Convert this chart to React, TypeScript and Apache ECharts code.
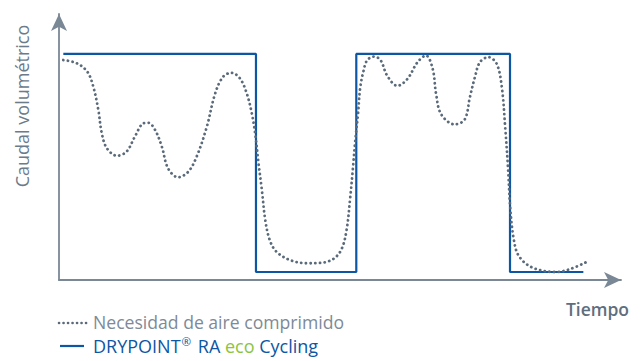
import React, { useEffect, useRef } from "react";
import * as echarts from "echarts";

// Compressed-air demand (dotted curve): time / flow values
const demandTime = [
  0.77, 3.15, 5.04, 6.1, 7.0, 7.6, 8.5, 10.3, 12.0, 13.5, 15.0, 15.9, 17.1, 18.3, 19.4, 21.2, 23.0, 24.5,
  26.3, 27.8, 29.2, 30.7, 32.2, 33.4, 34.3, 34.9, 35.5, 36.1, 36.7, 37.5, 38.7, 41.1, 44.1, 46.4, 48.8,
  50.3, 51.2, 51.8, 52.3, 52.7, 53.2, 53.6, 54.2, 54.8, 56.0, 57.2, 58.4, 60.2, 62.0, 63.8, 65.3, 66.5,
  67.1, 68.0, 70.4, 72.2, 73.1, 74.0, 74.9, 76.4, 77.9, 78.8, 79.4, 79.9, 80.3, 80.9, 81.8, 84.2, 88.4,
  90.8, 93.7,
];
const demandFlow = [
  82.7, 81.5, 78.3, 72.7, 63.9, 55.3, 49.6, 46.7, 48.2, 53.9, 58.9, 59.1, 56.4, 50.1, 42.0, 38.6, 40.7, 46.4,
  57.6, 70.2, 76.4, 77.9, 75.8, 70.2, 62.7, 55.2, 43.9, 33.8, 22.6, 15.0, 10.6, 7.5, 6.3, 6.4, 7.9,
  11.7, 19.2, 30.6, 42.0, 52.1, 62.3, 72.4, 78.7, 82.5, 84.0, 82.7, 76.8, 73.0, 75.6, 81.9, 84.4, 79.3,
  69.9, 62.3, 58.5, 60.4, 68.6, 76.2, 81.9, 83.8, 81.2, 72.4, 57.2, 42.0, 26.9, 15.5, 9.1, 4.7, 3.0,
  4.0, 6.6,
];

// DRYPOINT RA eco Cycling (step line)
const cycleTime = [0.77, 35.05, 35.05, 52.9, 52.9, 80.25, 80.25, 93.3];
const cycleFlow = [85, 85, 3, 3, 85, 85, 3, 3];

const yAxisTitle = "Caudal volumétrico";
const xAxisTitle = "Tiempo";
const legendDemand = "Necesidad de aire comprimido";
const legendCycling = ["DRYPOINT", "®", " RA ", "eco", " Cycling"];

const FONT = "'Open Sans', 'Noto Sans', sans-serif";
const AXIS_COLOR = "#7a8896";
const DOT_COLOR = "#5a6a7a";
const BLUE = "#0d56a3";
const GREEN = "#8cc43f";

export default function App() {
  const ref = useRef<HTMLDivElement>(null);

  useEffect(() => {
    if (!ref.current) return;
    const chart = echarts.init(ref.current, undefined, { renderer: "svg" });
    const demand = demandTime.map((t, i) => [t, demandFlow[i]]);
    const cycling = cycleTime.map((t, i) => [t, cycleFlow[i]]);

    chart.setOption({
      animation: false,
      grid: { left: 59, right: 22, top: 14, bottom: 81 },
      xAxis: {
        type: "value",
        min: 0,
        max: 100,
        axisLine: {
          show: true,
          symbol: ["none", "arrow"],
          symbolSize: [12, 17],
          lineStyle: { color: AXIS_COLOR, width: 1.8 },
        },
        axisTick: { show: false },
        axisLabel: { show: false },
        splitLine: { show: false },
      },
      yAxis: {
        type: "value",
        min: 0,
        max: 100,
        axisLine: {
          show: true,
          symbol: ["none", "arrow"],
          symbolSize: [12, 17],
          lineStyle: { color: AXIS_COLOR, width: 1.8 },
        },
        axisTick: { show: false },
        axisLabel: { show: false },
        splitLine: { show: false },
      },
      series: [
        {
          type: "line",
          data: cycling,
          symbol: "none",
          lineStyle: { color: BLUE, width: 2.2 },
          z: 2,
        },
        {
          type: "line",
          data: demand,
          symbol: "none",
          smooth: 0.35,
          lineStyle: { color: DOT_COLOR, width: 2.8, type: [0.1, 4.6], cap: "round" },
          z: 3,
        },
      ],
      graphic: [
        {
          type: "text",
          x: 22,
          y: 106,
          rotation: Math.PI / 2,
          style: {
            text: yAxisTitle,
            fill: "#6b7b8a",
            font: `500 18px ${FONT}`,
            align: "center",
            verticalAlign: "middle",
          },
        },
        {
          type: "text",
          x: 629,
          y: 309,
          style: {
            text: xAxisTitle,
            fill: "#5f6e7d",
            font: `600 17.5px ${FONT}`,
            align: "right",
            verticalAlign: "middle",
          },
        },
        {
          type: "line",
          shape: { x1: 59, y1: 323, x2: 88, y2: 323 },
          style: { stroke: DOT_COLOR, lineWidth: 2.6, lineDash: [0.1, 4.4], lineCap: "round" },
        },
        {
          type: "text",
          x: 93,
          y: 322,
          style: {
            text: legendDemand,
            fill: "#7d8a97",
            font: `17.6px ${FONT}`,
            align: "left",
            verticalAlign: "middle",
          },
        },
        {
          type: "line",
          shape: { x1: 60, y1: 346, x2: 84, y2: 346 },
          style: { stroke: BLUE, lineWidth: 2.2 },
        },
        {
          type: "text",
          x: 93,
          y: 346,
          style: {
            text:
              `{b|${legendCycling[0]}}{sup|${legendCycling[1]}}{b|${legendCycling[2]}}` +
              `{g|${legendCycling[3]}}{b|${legendCycling[4]}}`,
            align: "left",
            verticalAlign: "middle",
            rich: {
              b: { fill: BLUE, font: `18px ${FONT}`, lineHeight: 22 },
              sup: { fill: BLUE, font: `11.5px ${FONT}`, verticalAlign: "top", lineHeight: 22, padding: [0, 2, 9, 1] },
              g: { fill: GREEN, font: `18px ${FONT}`, lineHeight: 22 },
            },
          },
        },
      ],
    });
    return () => chart.dispose();
  }, []);

  return (
    <div
      ref={ref}
      style={{ position: "fixed", left: 0, top: 0, width: 643, height: 361, background: "#fff" }}
    />
  );
}
